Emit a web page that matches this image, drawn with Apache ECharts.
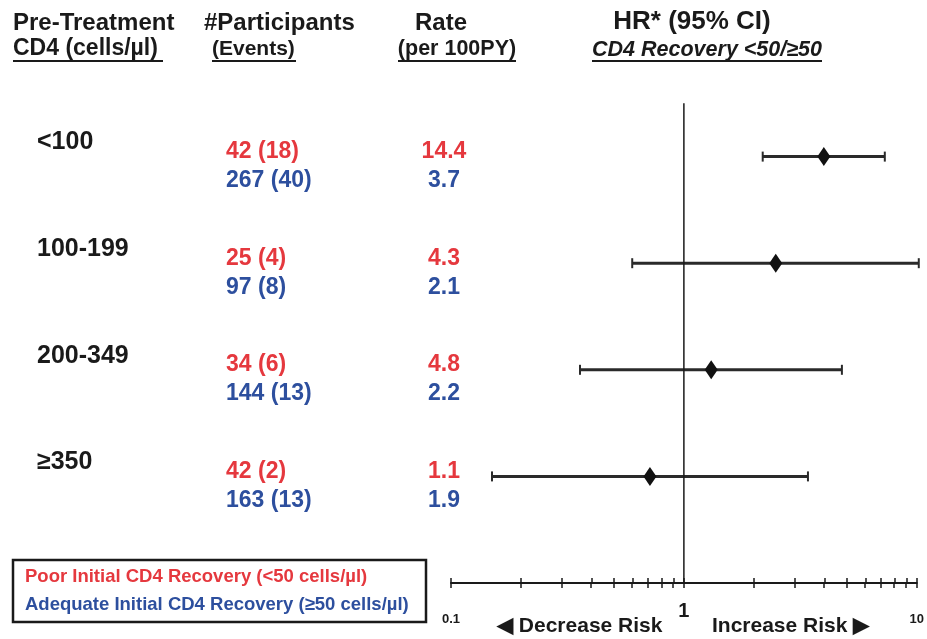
<!DOCTYPE html>
<html>
<head>
<meta charset="utf-8">
<script src="https://cdn.jsdelivr.net/npm/echarts@6/dist/echarts.min.js"></script>
<style>
    html, body { margin: 0; padding: 0; background: #fff; }
    #main { width: 927px; height: 639px; }
</style>
</head>
<body>
<div id="main"></div>
<script>
// --------------------------------------------------------------
// Data
// --------------------------------------------------------------
const groups = ["<100", "100-199", "200-349", "≥350"];
const poorParticipants = [42, 25, 34, 42];
const poorEvents = [18, 4, 6, 2];
const adeqParticipants = [267, 97, 144, 163];
const adeqEvents = [40, 8, 13, 13];
const poorRate = [14.4, 4.3, 4.8, 1.1];
const adeqRate = [3.7, 2.1, 2.2, 1.9];
const hazardRatio = [3.99, 2.48, 1.31, 0.715];
const ciLow = [2.18, 0.60, 0.358, 0.150];
const ciHigh = [7.29, 10.2, 4.77, 3.41];
const tickValues = [0.1, 0.2, 0.3, 0.4, 0.5, 0.6, 0.7, 0.8, 0.9, 1, 2, 3, 4, 5, 6, 7, 8, 9, 10];
const labelValues = [0.1, 1, 10];
const refLine = [[1, 0.5], [1, 5]];

// --------------------------------------------------------------
// Layout / style
// --------------------------------------------------------------
const FONT = "'Liberation Sans', Arial, sans-serif";
const RED = "#e5383e";
const BLUE = "#2d4f9e";
const INK = "#1a1a1a";
const COL_GROUP = 37;
const COL_PART = 226;
const COL_RATE = 444;
const PLOT_GRID = { left: 451, right: 10, top: 50, bottom: 56 };

function rowPoints(x) {
    return groups.map((g, i) => [x, i + 1]);
}

// text columns live in a full-width grid that shares the row scale
function textSeries(x, align, color, size, dy, fmt) {
    return {
        type: "scatter",
        xAxisIndex: 1,
        yAxisIndex: 1,
        symbolSize: 0,
        silent: true,
        itemStyle: { opacity: 1 },
        data: rowPoints(x),
        label: {
            show: true,
            position: "inside",
            align: align,
            verticalAlign: "middle",
            offset: [0, dy],
            color: color,
            opacity: 1,
            fontFamily: FONT,
            fontWeight: "bold",
            fontSize: size,
            formatter: p => fmt(p.dataIndex)
        }
    };
}

function renderCI(params, api) {
    const y = api.value(2);
    const a = api.coord([api.value(0), y]);
    const b = api.coord([api.value(1), y]);
    const cap = 5;
    const line = { stroke: "#2a2a2a", lineWidth: 3 };
    const capStyle = { stroke: "#2a2a2a", lineWidth: 2 };
    return {
        type: "group",
        children: [
            { type: "line", shape: { x1: a[0], y1: a[1], x2: b[0], y2: b[1] }, style: line },
            { type: "line", shape: { x1: a[0], y1: a[1] - cap, x2: a[0], y2: a[1] + cap }, style: capStyle },
            { type: "line", shape: { x1: b[0], y1: b[1] - cap, x2: b[0], y2: b[1] + cap }, style: capStyle }
        ]
    };
}

function headerText(text, x, y, opts = {}) {
    return {
        type: "text",
        silent: true,
        style: {
            text: text,
            x: x,
            y: y,
            fill: opts.fill || INK,
            align: opts.align || "left",
            verticalAlign: "middle",
            font: `${opts.italic ? "italic " : ""}bold ${opts.size || 24}px ${FONT}`
        }
    };
}

function underline(x1, x2, y) {
    return {
        type: "line",
        silent: true,
        shape: { x1: x1, y1: y, x2: x2, y2: y },
        style: { stroke: INK, lineWidth: 2 }
    };
}

const chart = echarts.init(document.getElementById("main"));

chart.setOption({
    animation: false,
    backgroundColor: "#fff",
    grid: [
        PLOT_GRID,
        { left: 0, right: 0, top: 50, bottom: 56 },
        PLOT_GRID
    ],
    xAxis: [
        {
            type: "log", logBase: 10, min: 0.1, max: 10, gridIndex: 0,
            position: "bottom",
            axisLine: { onZero: false, lineStyle: { color: INK, width: 2 } },
            axisTick: { show: true, customValues: tickValues, length: 5, inside: false, lineStyle: { color: INK, width: 1.5 } },
            minorTick: { show: false },
            splitLine: { show: false },
            axisLabel: {
                show: true,
                customValues: labelValues,
                margin: 18,
                formatter: v => (v === 1 ? `{big|${v}}` : `{small|${v}}`),
                rich: {
                    small: { fontFamily: FONT, fontWeight: "bold", fontSize: 13, color: INK, padding: [12, 0, 0, 0] },
                    big: { fontFamily: FONT, fontWeight: "bold", fontSize: 20, color: INK }
                }
            }
        },
        {
            type: "value", min: 0, max: 927, gridIndex: 1, show: false
        },
        {
            // second copy of the log axis: ticks pointing up
            type: "log", logBase: 10, min: 0.1, max: 10, gridIndex: 2,
            position: "bottom",
            axisLine: { show: false, onZero: false },
            axisTick: { show: true, customValues: tickValues, length: 5, inside: true, lineStyle: { color: INK, width: 1.5 } },
            axisLabel: { show: false },
            splitLine: { show: false }
        }
    ],
    yAxis: [
        { type: "value", min: 0, max: 5, inverse: true, gridIndex: 0, show: false },
        { type: "value", min: 0, max: 5, inverse: true, gridIndex: 1, show: false },
        { type: "value", min: 0, max: 5, inverse: true, gridIndex: 2, show: false }
    ],
    series: [
        {
            type: "line",
            xAxisIndex: 0,
            yAxisIndex: 0,
            data: refLine,
            symbol: "none",
            silent: true,
            lineStyle: { color: INK, width: 1.5 }
        },
        {
            type: "custom",
            xAxisIndex: 0,
            yAxisIndex: 0,
            clip: false,
            renderItem: renderCI,
            encode: { x: [0, 1], y: 2 },
            data: groups.map((g, i) => [ciLow[i], ciHigh[i], i + 1])
        },
        {
            type: "scatter",
            xAxisIndex: 0,
            yAxisIndex: 0,
            symbol: "diamond",
            symbolSize: [13, 19],
            itemStyle: { color: "#111", opacity: 1 },
            data: groups.map((g, i) => [hazardRatio[i], i + 1]),
            z: 5
        },
        textSeries(COL_GROUP, "left", INK, 25, -14, i => groups[i]),
        textSeries(COL_PART, "left", RED, 23, -5, i => `${poorParticipants[i]} (${poorEvents[i]})`),
        textSeries(COL_PART, "left", BLUE, 23, 24, i => `${adeqParticipants[i]} (${adeqEvents[i]})`),
        textSeries(COL_RATE, "center", RED, 23, -5, i => poorRate[i].toFixed(1)),
        textSeries(COL_RATE, "center", BLUE, 23, 24, i => adeqRate[i].toFixed(1))
    ],
    graphic: [
        headerText("Pre-Treatment", 13, 23),
        headerText("CD4 (cells/\u00b5l)", 13, 49, { size: 23 }),
        underline(13, 163, 61),
        headerText("#Participants", 204, 23),
        headerText("(Events)", 212, 49, { size: 21 }),
        underline(212, 296, 61),
        headerText("Rate", 441, 23, { align: "center" }),
        headerText("(per 100PY)", 457, 49, { align: "center", size: 21.5 }),
        underline(398, 516, 61),
        headerText("HR* (95% CI)", 692, 22, { align: "center", size: 26 }),
        headerText("CD4 Recovery <50/\u226550", 707, 50, { align: "center", size: 21.5, italic: true }),
        underline(592, 822, 61),
        {
            type: "rect",
            silent: true,
            shape: { x: 13, y: 560, width: 413, height: 62 },
            style: { fill: "#fff", stroke: INK, lineWidth: 2.5 }
        },
        headerText("Poor Initial CD4 Recovery (<50 cells/\u00b5l)", 25, 577, { size: 18.5, fill: RED }),
        headerText("Adequate Initial CD4 Recovery (\u226550 cells/\u00b5l)", 25, 605, { size: 18.5, fill: BLUE }),
        headerText("\u25c0 Decrease Risk", 497, 626, { size: 21 }),
        headerText("Increase Risk \u25b6", 712, 626, { size: 21 })
    ]
});
</script>
</body>
</html>
